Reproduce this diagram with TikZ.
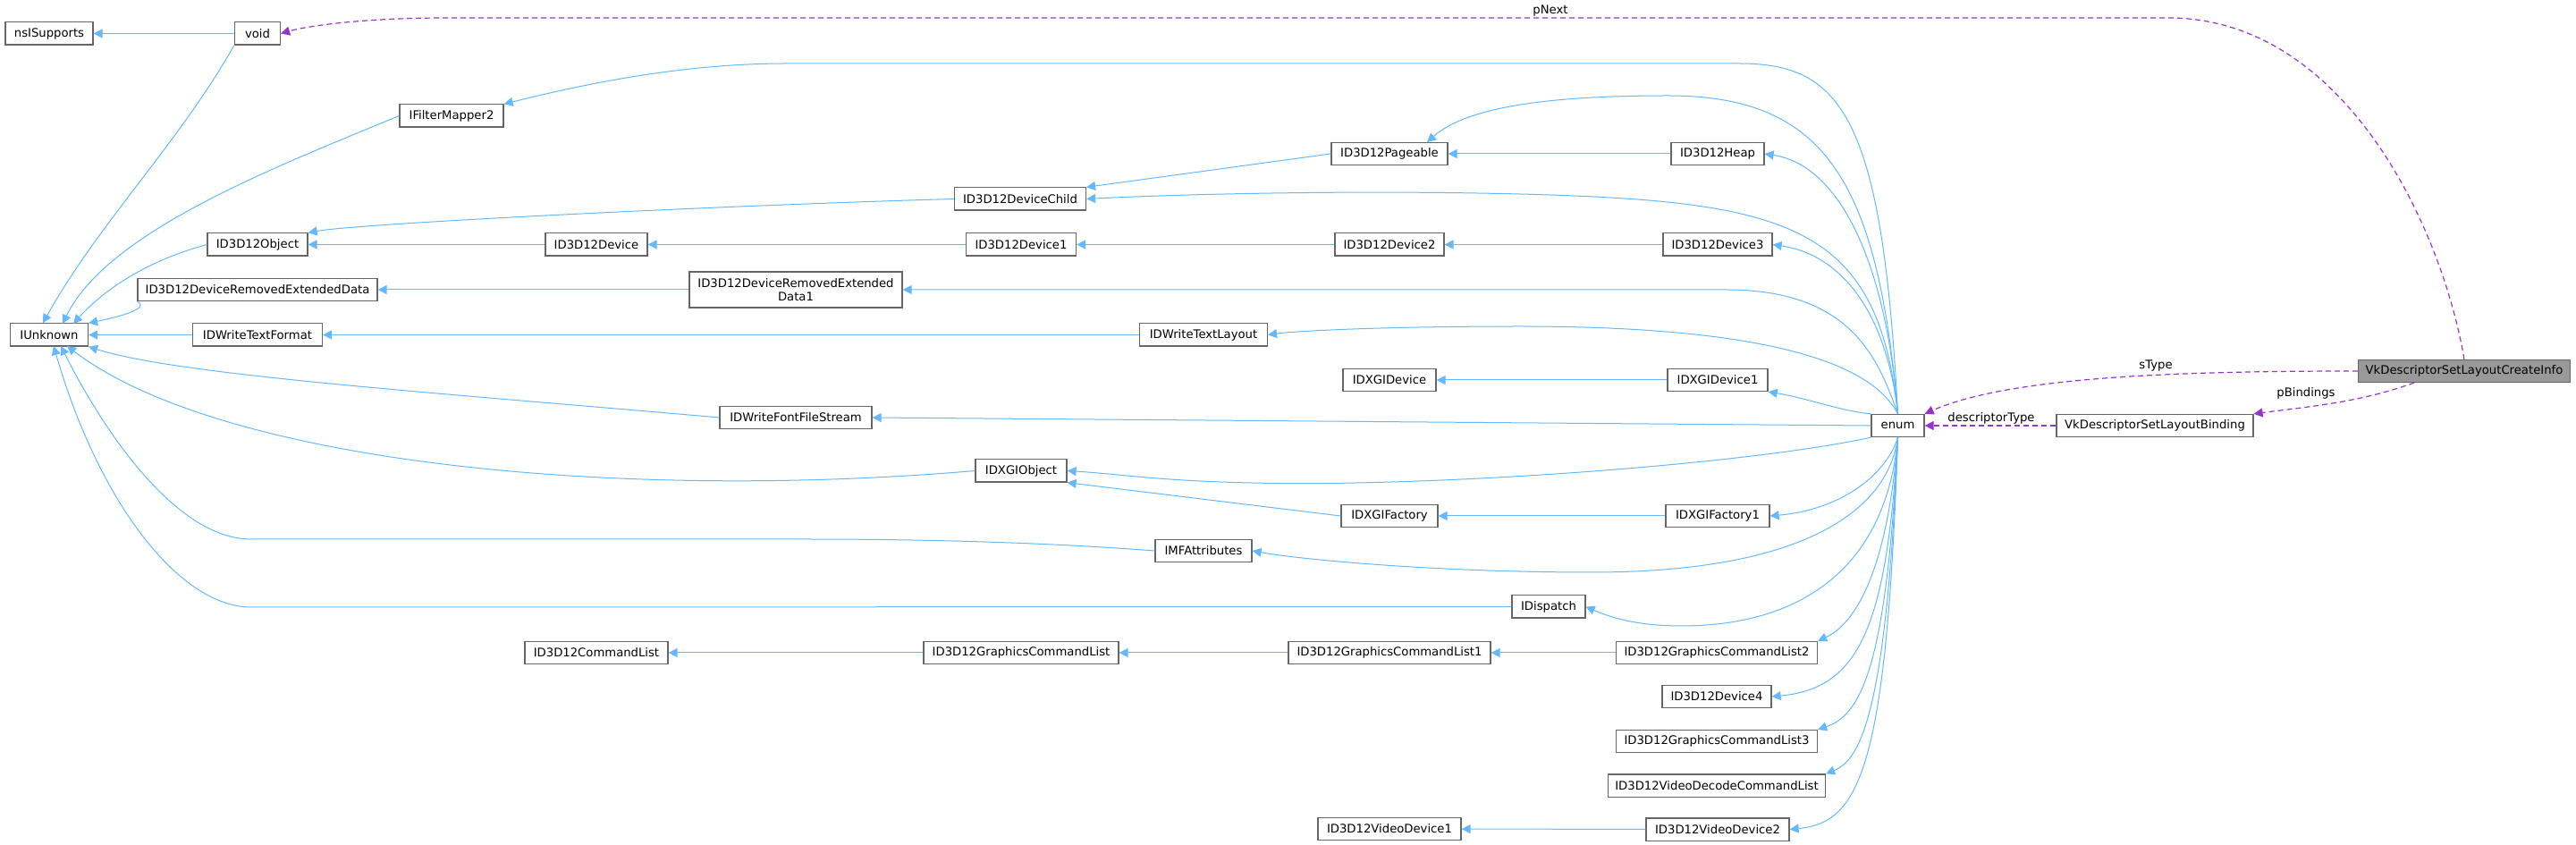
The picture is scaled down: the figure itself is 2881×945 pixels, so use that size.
\documentclass[tikz,border=0pt]{standalone}
\usepackage{fontspec}
\setmainfont{DejaVu Sans}
\usetikzlibrary{arrows.meta}
\definecolor{inhc}{RGB}{99,184,255}
\definecolor{usec}{RGB}{154,50,205}
\definecolor{bordc}{RGB}{102,102,102}
\begin{document}
\begin{tikzpicture}[x=0.5pt,y=-0.5pt,
  box/.style={draw=bordc,line width=0.6pt,fill=white,inner sep=0pt,minimum height=12.6pt,font=\fontsize{6.6}{7.6}\selectfont,align=center},
  inh/.style={draw=inhc,line width=0.5pt,-{Triangle[length=5pt,width=5pt]}},
  use/.style={draw=usec,line width=0.6pt,dash pattern=on 3pt off 2pt,-{Triangle[length=5pt,width=5pt]}},
  lbl/.style={font=\fontsize{6.6}{7.6}\selectfont,inner sep=1pt}]
\useasboundingbox (0,0) rectangle (2881,945);
% nodes
\node[box,minimum width=49pt] (nsi) at (55,37.5) {nsISupports};
\node[box,minimum width=25.5pt] (void) at (288,37.5) {void};
\node[box,minimum width=58pt] (ifm) at (505,129.5) {IFilterMapper2};
\node[box,minimum width=65pt] (pag) at (1554,172) {ID3D12Pageable};
\node[box,minimum width=52pt] (heap) at (1921,172) {ID3D12Heap};
\node[box,minimum width=73.5pt] (dch) at (1141,222.5) {ID3D12DeviceChild};
\node[box,minimum width=56pt] (obj) at (288,273.5) {ID3D12Object};
\node[box,minimum width=57pt] (dev) at (667,273.5) {ID3D12Device};
\node[box,minimum width=61.5pt] (dev1) at (1142,273.5) {ID3D12Device1};
\node[box,minimum width=61pt] (dev2) at (1554,273.5) {ID3D12Device2};
\node[box,minimum width=61pt] (dev3) at (1921,273.5) {ID3D12Device3};
\node[box,minimum width=134pt] (dred) at (288,324) {ID3D12DeviceRemovedExtendedData};
\node[box,minimum width=119pt,minimum height=20pt] (dred1) at (890,324) {ID3D12DeviceRemovedExtended\\Data1};
\node[box,minimum width=43.5pt] (iunk) at (55,374.5) {IUnknown};
\node[box,minimum width=72.5pt] (dwtf) at (288,374.5) {IDWriteTextFormat};
\node[box,minimum width=71.5pt] (dwtl) at (1346,374.5) {IDWriteTextLayout};
\node[box,minimum width=52pt] (dxd) at (1554,425) {IDXGIDevice};
\node[box,minimum width=56pt] (dxd1) at (1921,425) {IDXGIDevice1};
\node[box,minimum width=85pt] (dwff) at (890,467) {IDWriteFontFileStream};
\node[box,minimum width=29.5pt] (enum) at (2122.5,476) {enum};
\node[box,minimum width=110pt] (bind) at (2410,476) {VkDescriptorSetLayoutBinding};
\node[box,minimum width=118.5pt,fill=black!40] (ci) at (2756,415) {VkDescriptorSetLayoutCreateInfo};
\node[box,minimum width=51pt] (dxo) at (1142,526.5) {IDXGIObject};
\node[box,minimum width=54pt] (dxf) at (1554,577) {IDXGIFactory};
\node[box,minimum width=58pt] (dxf1) at (1921,577) {IDXGIFactory1};
\node[box,minimum width=54pt] (mfa) at (1346,616) {IMFAttributes};
\node[box,minimum width=41pt] (disp) at (1732,678.5) {IDispatch};
\node[box,minimum width=80pt] (cl) at (667,730) {ID3D12CommandList};
\node[box,minimum width=109pt] (gcl) at (1142,730) {ID3D12GraphicsCommandList};
\node[box,minimum width=113pt] (gcl1) at (1554,730) {ID3D12GraphicsCommandList1};
\node[box,minimum width=112.5pt] (gcl2) at (1920,730) {ID3D12GraphicsCommandList2};
\node[box,minimum width=61pt] (dev4) at (1920,779) {ID3D12Device4};
\node[box,minimum width=112.5pt] (gcl3) at (1920,829) {ID3D12GraphicsCommandList3};
\node[box,minimum width=121.5pt] (vdcl) at (1920,878.5) {ID3D12VideoDecodeCommandList};
\node[box,minimum width=80pt] (vd1) at (1554,927) {ID3D12VideoDevice1};
\node[box,minimum width=80pt] (vd2) at (1921,927.5) {ID3D12VideoDevice2};
% left part
\draw[inh] (void) -- (nsi);
\draw[inh] (void.south west) .. controls (200,160) and (110,250) .. (iunk.north west -| 48,362);
\draw[inh] (ifm.west) .. controls (300,190) and (120,260) .. (70,362);
\draw[inh] (obj.west) .. controls (170,290) and (120,320) .. (82,362);
\draw[inh] (dred.south west) .. controls (170,345) and (130,355) .. (iunk.north east);
\draw[inh] (dwtf) -- (iunk);
\draw[inh] (dwff.west) .. controls (500,440) and (200,420) .. (iunk.south east);
\draw[inh] (dxo.west) .. controls (700,560) and (250,520) .. (75,387);
\draw[inh] (mfa.west) .. controls (1150,605) and (1000,603) .. (900,603) -- (281,603) .. controls (200,603) and (120,490) .. (68,387);
\draw[inh] (disp.west) -- (281,679) .. controls (200,679) and (110,560) .. (60,387);
\draw[inh] (dch.west) .. controls (800,230) and (400,250) .. (obj.north east);
\draw[inh] (dev) -- (obj);
\draw[inh] (pag.west) -- (dch.north east);
\draw[inh] (heap) -- (pag);
\draw[inh] (dev1) -- (dev);
\draw[inh] (dev2) -- (dev1);
\draw[inh] (dev3) -- (dev2);
\draw[inh] (dred1) -- (dred);
\draw[inh] (dwtl) -- (dwtf);
\draw[inh] (dxd1) -- (dxd);
\draw[inh] (dxf.west) -- (dxo.south east);
\draw[inh] (dxf1) -- (dxf);
\draw[inh] (gcl) -- (cl);
\draw[inh] (gcl1) -- (gcl);
\draw[inh] (gcl2) -- (gcl1);
\draw[inh] (vd2) -- (vd1);
% enum edges
\draw[inh] (enum.north) .. controls (2105,130) and (2060,71) .. (1945,71) -- (880,71) .. controls (760,71) and (650,95) .. (ifm.north east);
\draw[inh] (enum.north) .. controls (2100,200) and (2040,107) .. (1865,107) .. controls (1730,107) and (1640,120) .. (1596,159);
\draw[inh] (enum.north) .. controls (2100,250) and (2000,225) .. (1700,217) .. controls (1500,212) and (1300,218) .. (dch.east);
\draw[inh] (enum.north) .. controls (2110,300) and (2060,185) .. (heap.east);
\draw[inh] (enum.north) .. controls (2110,350) and (2060,285) .. (dev3.east);
\draw[inh] (enum.north) .. controls (2100,400) and (2070,324) .. (1930,324) -- (dred1.east);
\draw[inh] (enum.north) .. controls (2100,420) and (2020,365) .. (1700,365) .. controls (1550,365) and (1450,370) .. (dwtl.east);
\draw[inh] (enum.north west) .. controls (2060,460) and (2020,445) .. (dxd1.south east);
\draw[inh] (enum.west) -- (dwff.east);
\draw[inh] (enum.south west) .. controls (1950,520) and (1600,545) .. (1400,540) .. controls (1300,538) and (1250,530) .. (dxo.east);
\draw[inh] (enum.south) .. controls (2110,530) and (2060,570) .. (dxf1.east);
\draw[inh] (enum.south) .. controls (2110,580) and (2000,640) .. (1780,640) .. controls (1600,640) and (1450,625) .. (mfa.east);
\draw[inh] (enum.south) .. controls (2110,630) and (2020,700) .. (1880,700) .. controls (1830,700) and (1800,690) .. (disp.east);
\draw[inh] (enum.south) .. controls (2110,650) and (2070,700) .. (gcl2.north east);
\draw[inh] (enum.south) .. controls (2110,700) and (2080,770) .. (dev4.east);
\draw[inh] (enum.south) .. controls (2110,750) and (2080,800) .. (gcl3.north east);
\draw[inh] (enum.south) .. controls (2110,800) and (2080,850) .. (vdcl.north east);
\draw[inh] (enum.south) .. controls (2110,860) and (2080,920) .. (vd2.east);
% use edges
\draw[use] (ci.north) .. controls (2730,250) and (2620,20) .. (2425,20) -- (500,20) .. controls (400,20) and (340,30) .. (void.east);
\node[lbl] (lnext) at (1734,12) {pNext};
\draw[use] (ci.west) .. controls (2450,415) and (2250,420) .. (enum.north east);
\node[lbl] (lstype) at (2411,409) {sType};
\draw[use] (2700,428) .. controls (2640,450) and (2580,455) .. (bind.north east);
\node[lbl] (lpb) at (2579,440) {pBindings};
\draw[use] (bind.west) -- (enum.east);
\node[lbl] (ldt) at (2227,468) {descriptorType};
\end{tikzpicture}
\end{document}
